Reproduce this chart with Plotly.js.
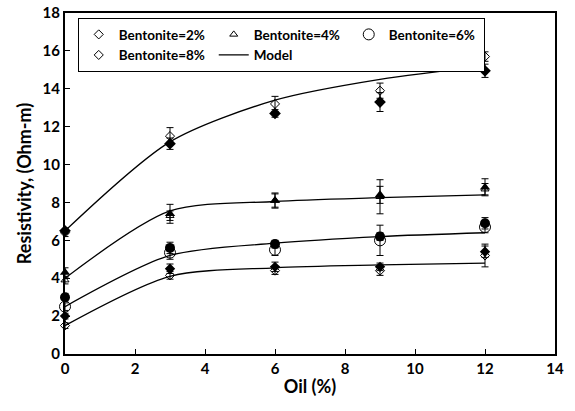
<!DOCTYPE html>
<html>
<head>
<meta charset="utf-8">
<script src="https://cdn.plot.ly/plotly-3.0.1.min.js"></script>
<style>body{margin:0;padding:0;background:#fff}#chart{width:575px;height:411px}</style>
</head>
<body>
<div id="chart"></div>
<script>
// Oil content (%)
const oil = [0, 3, 6, 9, 12];

// Bentonite = 2%
const b2Open = [1.5, 4.15, 4.4, 4.4, 5.2];
const b2OpenErr = [0.15, 0.2, 0.2, 0.25, 0.6];
const b2Fill = [2.0, 4.5, 4.6, 4.6, 5.4];
const b2FillErr = [0.15, 0.25, 0.25, 0.2, 0.3];
const b2Model = [1.5, 4.1, 4.55, 4.7, 4.8];

// Bentonite = 4%
const b4Open = [3.9, 7.3, 8.1, 8.3, 8.7];
const b4OpenErr = [0.2, 0.25, 0.35, 0.9, 0.3];
const b4Fill = [4.3, 7.4, 8.1, 8.4, 8.8];
const b4FillErr = [0.25, 0.5, 0.4, 0.45, 0.45];
const b4Model = [4.0, 7.55, 8.05, 8.25, 8.4];

// Bentonite = 6%
const b6Open = [2.5, 5.35, 5.5, 6.0, 6.7];
const b6OpenErr = [0.2, 0.35, 0.3, 0.8, 0.3];
const b6Fill = [3.0, 5.6, 5.8, 6.2, 6.9];
const b6FillErr = [0.2, 0.3, 0.2, 0.2, 0.3];
const b6Model = [2.5, 5.2, 5.85, 6.2, 6.4];

// Bentonite = 8%
const b8Open = [6.4, 11.5, 13.2, 13.9, 15.7];
const b8OpenErr = [0.2, 0.45, 0.4, 0.4, 0.25];
const b8Fill = [6.5, 11.1, 12.7, 13.3, 14.95];
const b8FillErr = [0.15, 0.3, 0.2, 0.5, 0.35];
const b8Model = [6.5, 11.2, 13.4, 14.5, 15.2];

const seriesNames = ['Bentonite=2%', 'Bentonite=4%', 'Bentonite=6%', 'Bentonite=8%'];
const xTickVals = [0, 2, 4, 6, 8, 10, 12, 14];
const yTickVals = [0, 2, 4, 6, 8, 10, 12, 14, 16, 18];

const FONT = 'Lato, "Open Sans", Arial, sans-serif';

const models = [b2Model, b4Model, b6Model, b8Model];
const opens = [b2Open, b4Open, b6Open, b8Open];
const openErrs = [b2OpenErr, b4OpenErr, b6OpenErr, b8OpenErr];
const fills = [b2Fill, b4Fill, b6Fill, b8Fill];
const fillErrs = [b2FillErr, b4FillErr, b6FillErr, b8FillErr];
const openSym = ['diamond-open', 'triangle-up-open', 'circle-open', 'diamond-open'];
const fillSym = ['diamond', 'triangle-up', 'circle', 'diamond'];
const openSize = [7, 7, 11, 7];
const fillSize = [8, 9, 10, 9];

const traces = [];
models.forEach((m, i) => {
  traces.push({
    x: oil, y: m, type: 'scatter', mode: 'lines',
    name: 'Model', showlegend: false,
    line: {color: '#000', width: 1.3, shape: 'spline', smoothing: 0.8},
    hoverinfo: 'skip', cliponaxis: false
  });
});
fills.forEach((f, i) => {
  traces.push({
    x: oil, y: f, type: 'scatter', mode: 'markers',
    name: seriesNames[i] + ' (2)', showlegend: false,
    marker: {symbol: fillSym[i], size: fillSize[i], color: '#000'},
    error_y: {type: 'data', array: fillErrs[i], visible: true, color: '#000', thickness: 1, width: 3.5},
    cliponaxis: false
  });
});
opens.forEach((o, i) => {
  traces.push({
    x: oil, y: o, type: 'scatter', mode: 'markers',
    name: seriesNames[i], legendrank: i + 1,
    marker: {symbol: openSym[i], size: openSize[i], color: '#000', line: {color: '#000', width: 1}},
    error_y: {type: 'data', array: openErrs[i], visible: true, color: '#000', thickness: 1, width: 3.5},
    cliponaxis: false
  });
});
traces.push({
  x: [null], y: [null], type: 'scatter', mode: 'lines', name: 'Model', legendrank: 5,
  line: {color: '#000', width: 1.3}
});

const layout = {
  width: 575, height: 411,
  margin: {l: 65, r: 20, t: 13, b: 57},
  paper_bgcolor: '#fff', plot_bgcolor: '#fff',
  font: {family: FONT, color: '#000'},
  showlegend: true,
  legend: {
    orientation: 'h', x: 0.026, y: 0.985, xanchor: 'left', yanchor: 'top',
    bordercolor: '#000', borderwidth: 1, bgcolor: '#fff',
    font: {family: FONT, size: 13.5, color: '#000', weight: 'bold'},
    entrywidth: 90, entrywidthmode: 'pixels',
    traceorder: 'normal', tracegroupgap: 0
  },
  xaxis: {
    range: [0, 14], tickvals: xTickVals, ticktext: xTickVals.map(String),
    ticks: 'inside', ticklen: 5, tickwidth: 1, tickcolor: '#000',
    showline: true, linecolor: '#000', linewidth: 2, mirror: true,
    showgrid: false, zeroline: false,
    tickfont: {family: FONT, size: 15, color: '#000', weight: 'bold'},
    title: {text: 'Oil (%)', font: {family: FONT, size: 18, color: '#000', weight: 'bold'}, standoff: 4}
  },
  yaxis: {
    range: [0, 18], tickvals: yTickVals, ticktext: yTickVals.map(String),
    ticks: 'inside', ticklen: 5, tickwidth: 1, tickcolor: '#000',
    showline: true, linecolor: '#000', linewidth: 2, mirror: true,
    showgrid: false, zeroline: false,
    tickfont: {family: FONT, size: 15, color: '#000', weight: 'bold'},
    title: {text: 'Resistivity, (Ohm-m)', font: {family: FONT, size: 18, color: '#000', weight: 'bold'}, standoff: 6}
  }
};

Plotly.newPlot('chart', traces, layout, {displayModeBar: false, staticPlot: true});
</script>
</body>
</html>
